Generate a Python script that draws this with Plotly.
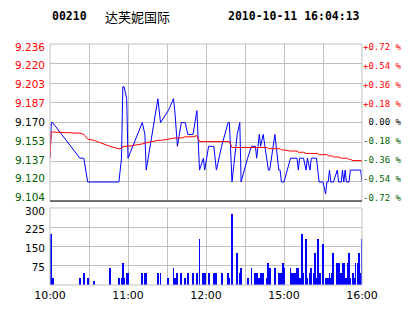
import plotly.graph_objects as go

# ---------------- data ----------------
stock_code = "00210"
stock_name = "达芙妮国际"
stamp = "2010-10-11 16:04:13"
prev_close = 9.17

trade_times = ["10:00", "10:01", "10:02", "10:23", "10:26", "10:29", "10:34", "10:46", "10:53", "10:55",
               "10:56", "10:57", "10:59", "11:00", "11:11", "11:13", "11:14", "11:23", "11:25", "11:31",
               "11:35", "11:36", "11:38", "11:41", "11:44", "11:46", "11:50", "11:53", "11:55", "11:58",
               "11:59", "12:02", "12:06", "12:08", "12:12", "12:17", "12:18", "12:20", "12:24", "12:26",
               "12:27", "14:32", "14:35", "14:38", "14:39", "14:41", "14:42", "14:44", "14:47", "14:48",
               "14:49", "14:53", "14:56", "14:57", "14:58", "14:59", "15:00", "15:05", "15:06", "15:08",
               "15:09", "15:10", "15:11", "15:12", "15:13", "15:14", "15:15", "15:17", "15:18", "15:20",
               "15:21", "15:23", "15:24", "15:25", "15:26", "15:27", "15:28", "15:30", "15:32", "15:33",
               "15:34", "15:35", "15:36", "15:37", "15:38", "15:41", "15:42", "15:44", "15:45", "15:46",
               "15:47", "15:48", "15:49", "15:50", "15:51", "15:53", "15:54", "15:55", "15:57", "15:58",
               "15:59", "16:00"]

price = [9.14, 9.17, 9.17, 9.14, 9.14, 9.12, 9.12, 9.12, 9.12, 9.14,
         9.20, 9.20, 9.19, 9.14, 9.17, 9.16, 9.13, 9.19, 9.17, 9.18,
         9.19, 9.18, 9.15, 9.17, 9.17, 9.16, 9.16, 9.18, 9.13, 9.14,
         9.13, 9.15, 9.15, 9.13, 9.15, 9.17, 9.17, 9.12, 9.16, 9.17,
         9.12, 9.14, 9.15, 9.15, 9.14, 9.16, 9.15, 9.16, 9.14, 9.13,
         9.13, 9.16, 9.13, 9.13, 9.12, 9.12, 9.12, 9.14, 9.14, 9.14,
         9.14, 9.14, 9.13, 9.14, 9.14, 9.14, 9.14, 9.13, 9.14, 9.13,
         9.14, 9.14, 9.14, 9.14, 9.13, 9.12, 9.12, 9.12, 9.11, 9.12,
         9.12, 9.13, 9.12, 9.12, 9.12, 9.13, 9.12, 9.12, 9.13, 9.12,
         9.13, 9.12, 9.12, 9.12, 9.13, 9.13, 9.13, 9.13, 9.13, 9.13,
         9.13, 9.12]

avg_price = [9.140, 9.162, 9.162, 9.161, 9.160, 9.156, 9.155, 9.150, 9.148, 9.148,
             9.150, 9.150, 9.150, 9.150, 9.152, 9.153, 9.153, 9.155, 9.155, 9.156,
             9.157, 9.157, 9.157, 9.157, 9.158, 9.158, 9.158, 9.159, 9.154, 9.154,
             9.154, 9.154, 9.154, 9.154, 9.154, 9.154, 9.154, 9.149, 9.149, 9.149,
             9.149, 9.149, 9.149, 9.149, 9.149, 9.149, 9.149, 9.149, 9.149, 9.148,
             9.148, 9.148, 9.148, 9.148, 9.147, 9.147, 9.147, 9.146, 9.146, 9.146,
             9.146, 9.146, 9.145, 9.145, 9.145, 9.145, 9.145, 9.144, 9.144, 9.144,
             9.144, 9.144, 9.144, 9.144, 9.144, 9.143, 9.143, 9.143, 9.143, 9.143,
             9.142, 9.142, 9.142, 9.142, 9.141, 9.141, 9.141, 9.140, 9.140, 9.140,
             9.140, 9.140, 9.140, 9.139, 9.139, 9.138, 9.138, 9.138, 9.138, 9.138,
             9.138, 9.138]

volume = [85, 200, 28, 28, 47, 28, 17, 66, 28, 28,
          85, 28, 47, 47, 47, 47, 47, 47, 47, 28,
          66, 28, 47, 47, 28, 47, 47, 47, 180, 47,
          47, 47, 47, 47, 47, 47, 28, 278, 123, 47,
          66, 28, 66, 47, 47, 28, 47, 47, 28, 85,
          66, 66, 47, 47, 47, 85, 66, 66, 47, 47,
          47, 66, 66, 28, 28, 200, 47, 180, 28, 47,
          66, 47, 123, 28, 180, 47, 47, 160, 28, 28,
          28, 47, 28, 47, 123, 85, 85, 47, 85, 85,
          28, 28, 85, 123, 28, 47, 28, 85, 85, 123,
          47, 180]

left_tick_text = ["9.104", "9.120", "9.137", "9.153", "9.170", "9.187", "9.203", "9.220", "9.236"]
pct_steps = [-0.72, -0.54, -0.36, -0.18, 0.0, 0.18, 0.36, 0.54, 0.72]
right_tick_text = ["-0.72 %", "-0.54 %", "-0.36 %", "-0.18 %", " 0.00 %", "+0.18 %", "+0.36 %", "+0.54 %", "+0.72 %"]
vol_tick_vals = [0, 75, 150, 225, 300]
vol_label_vals = [75, 150, 225, 300]
vol_label_text = ["75", "150", "225", "300"]
x_label_times = ["10:00", "10:30", "11:00", "11:30", "12:00", "14:30", "15:00", "15:30", "16:00"]
x_label_text = ["10:00", "", "11:00", "", "12:00", "", "15:00", "", "16:00"]


def to_index(t):
    h, m = map(int, t.split(":"))
    mins = h * 60 + m
    if mins <= 12 * 60 + 30:
        return mins - 600
    return 150 + (mins - (14 * 60 + 30))


x = [to_index(t) for t in trade_times]
x_ticks = [to_index(t) for t in x_label_times]
y_ticks = [prev_close * (1 + p / 100) for p in pct_steps]

RED = "#ff0000"
GREEN = "#006000"


def col(p):
    return RED if p > 0 else (GREEN if p < 0 else "#000000")


left_text = [f"<span style='color:{col(p)}'>{t}</span>" for p, t in zip(pct_steps, left_tick_text)]
right_text = [f"<span style='color:{col(p)}'>{t}</span>" for p, t in zip(pct_steps, right_tick_text)]

# ---------------- layout geometry (pixels) ----------------
W, H = 414, 314
ml, mr, mt, mb = 50, 44, 44, 26
ph = H - mt - mb
P_TOP, P_BOT = 44, 203     # price panel
V_TOP, V_BOT = 210, 288    # volume panel
price_dom = [(V_BOT - P_BOT) / ph, 1.0]
vol_dom = [0.0, (V_BOT - V_TOP) / ph]

# label axes: labels sit slightly inside the outer gridlines, as in the original
LBL_TOP_PX, LBL_BOT_PX = 47, 199.5
s = (y_ticks[-1] - y_ticks[0]) / (LBL_BOT_PX - LBL_TOP_PX)
lbl_range = [y_ticks[0] - (P_BOT - LBL_BOT_PX) * s, y_ticks[-1] + (LBL_TOP_PX - P_TOP) * s]
VL_TOP_PX, VL_BOT_PX = 213, 269.8
sv = (vol_label_vals[-1] - vol_label_vals[0]) / (VL_BOT_PX - VL_TOP_PX)
vlbl_range = [vol_label_vals[0] - (V_BOT - VL_BOT_PX) * sv, vol_label_vals[-1] + (VL_TOP_PX - V_TOP) * sv]

GRID = "#c0c0c0"
fig = go.Figure()
fig.add_trace(go.Scatter(x=x, y=price, mode="lines", line=dict(color="#0000ff", width=1),
                         xaxis="x", yaxis="y", hoverinfo="skip"))
fig.add_trace(go.Scatter(x=x, y=avg_price, mode="lines", line=dict(color="#ff0000", width=1),
                         xaxis="x", yaxis="y", hoverinfo="skip"))
fig.add_trace(go.Bar(x=x, y=volume, width=0.75, marker=dict(color="#0000ff", line=dict(width=0)),
                     xaxis="x2", yaxis="y2", hoverinfo="skip"))
# invisible traces that activate the label axes
for ya, xa, yv in (("y3", "x", prev_close), ("y4", "x", prev_close), ("y5", "x2", 0)):
    fig.add_trace(go.Scatter(x=[0], y=[yv], mode="lines", xaxis=xa, yaxis=ya,
                             line=dict(width=0), hoverinfo="skip"))

fig.update_layout(
    width=W, height=H, margin=dict(l=ml, r=mr, t=mt, b=mb),
    paper_bgcolor="white", plot_bgcolor="white", showlegend=False,
    xaxis=dict(domain=[0, 1], range=[0, 240], tickvals=x_ticks, showticklabels=False,
               showgrid=True, gridcolor=GRID, gridwidth=1, zeroline=False, ticks="", anchor="y"),
    yaxis=dict(domain=price_dom, range=[y_ticks[0], y_ticks[-1]], tickvals=y_ticks, showticklabels=False,
               showgrid=True, gridcolor=GRID, zeroline=False, ticks="", anchor="x"),
    yaxis3=dict(overlaying="y", side="left", range=lbl_range, tickvals=y_ticks, ticktext=left_text,
                showgrid=False, zeroline=False, ticks="", ticklabelstandoff=4,
                tickfont=dict(family="DejaVu Sans", size=10.5), anchor="x"),
    yaxis4=dict(overlaying="y", side="right", range=lbl_range, tickvals=y_ticks,
                ticktext=right_text, showgrid=False, zeroline=False, ticks="", ticklabelstandoff=0,
                tickfont=dict(family="DejaVu Sans Mono", size=9), anchor="x"),
    xaxis2=dict(domain=[0, 1], range=[0, 240], tickvals=x_ticks, ticktext=x_label_text,
                showgrid=True, gridcolor=GRID, zeroline=False, ticks="", ticklabelstandoff=2,
                tickfont=dict(family="DejaVu Sans", size=11, color="#000000"), anchor="y2"),
    yaxis2=dict(domain=vol_dom, range=[0, 300], tickvals=vol_tick_vals, showticklabels=False,
                showgrid=True, gridcolor=GRID, zeroline=False, ticks="", anchor="x2"),
    yaxis5=dict(overlaying="y2", side="left", range=vlbl_range, tickvals=vol_label_vals,
                ticktext=vol_label_text, showgrid=False, zeroline=False, ticks="", ticklabelstandoff=4,
                tickfont=dict(family="DejaVu Sans", size=10.5, color="#000000"), anchor="x2"),
    bargap=0,
)

fig.add_shape(type="rect", xref="x domain", yref="y domain", x0=0, x1=1, y0=0, y1=1,
              line=dict(color=GRID, width=1))
fig.add_shape(type="rect", xref="x2 domain", yref="y2 domain", x0=0, x1=1, y0=0, y1=1,
              line=dict(color=GRID, width=1))
fig.add_shape(type="line", xref="x domain", yref="y", x0=0, x1=1, y0=prev_close, y1=prev_close,
              line=dict(color="#000000", width=1), layer="below")
fig.add_shape(type="line", xref="x domain", yref="y domain", x0=0, x1=1, y0=0, y1=0,
              line=dict(color="#000000", width=1))

title_y = (V_BOT - 16) / ph
pw = W - ml - mr
fig.add_annotation(text=f"<b>{stock_code}</b>", xref="paper", yref="paper", x=0, y=title_y,
                   xanchor="left", yanchor="middle", showarrow=False,
                   font=dict(family="DejaVu Sans Mono", size=11.5, color="#000000"))
fig.add_annotation(text=stock_name, xref="paper", yref="paper", x=(104 - ml) / pw, y=title_y,
                   xanchor="left", yanchor="middle", showarrow=False,
                   font=dict(family="Noto Sans CJK SC", size=13, color="#000000"))
fig.add_annotation(text=f"<b>{stamp}</b>", xref="paper", yref="paper", x=(370 - ml) / pw,
                   y=title_y, xanchor="right", yanchor="middle", showarrow=False,
                   font=dict(family="DejaVu Sans Mono", size=11.5, color="#000000"))

fig.write_html("out.html")
